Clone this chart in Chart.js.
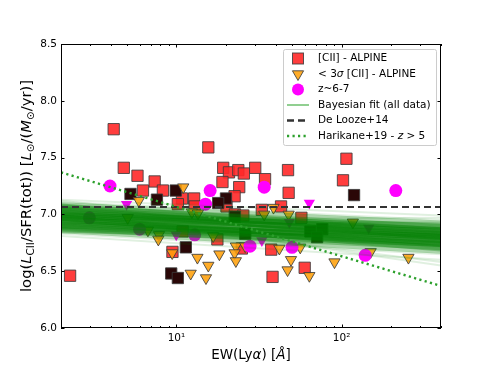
<!DOCTYPE html>
<html><head><meta charset="utf-8">
<script src="https://cdn.jsdelivr.net/npm/chart.js@4.4.1/dist/chart.umd.min.js"></script>
<style>html,body{margin:0;padding:0;background:#fff}#wrap{width:490px;height:368px}</style>
</head><body><div id="wrap"><canvas id="c" width="490" height="368"></canvas></div>
<script>
// ---- data ----
const redEW = [2.27,4.17,4.80,5.81,7.38,6.27,8.28,10.8,10.2,15.6,19.2,20.8,23.7,25.6,30.0,47.4,19.0,34.4,24.0,47.8,12.8,22.5,43.0,12.9,20.1,22.6,25.4,32.9,57.1,17.7,10.9,9.46,24.9,37.5,59.8,38.2,107,102];
const redY  = [6.46,7.75,7.41,7.34,7.29,7.21,7.21,7.14,7.09,7.59,7.41,7.37,7.39,7.36,7.41,7.39,7.285,7.31,7.24,7.19,7.14,7.16,7.07,7.07,7.07,7.00,6.99,7.04,6.97,6.78,6.85,6.67,6.70,6.69,6.53,6.45,7.49,7.30];
const darkEW = [5.27,7.62,9.9,19.95,17.9,22.6,11.4,9.3,10.2,119,64.7,76.4,71.1,26.1];
const darkY  = [7.18,7.13,7.21,7.14,7.10,6.98,6.71,6.48,6.44,7.17,6.85,6.87,6.80,6.83];
const limEW = [11.0,5.92,12.4,13.5,34.0,38.7,47.8,7.84,7.77,6.72,9.43,13.4,15.6,18.2,22.9,22.5,22.9,12.2,15.1,26.1,42.0,56.2,49.4,47.1,63.8,117,90.6,254,150,5.07,16.7];
const limY  = [7.24,7.12,7.02,7.01,7.00,7.06,7.00,6.82,6.78,6.86,6.66,6.62,6.55,6.65,6.72,6.66,6.59,6.48,6.44,6.72,6.70,6.71,6.60,6.51,6.46,6.93,6.58,6.62,6.67,6.97,6.81];
const z67EW = [3.96,16.0,34.0,15.0,213,12.9,5.98,27.9,50.1,139,2.97];
const z67Y  = [7.25,7.21,7.24,7.09,7.21,6.82,6.87,6.72,6.71,6.64,6.97];
const z67LimEW = [4.99,9.97,63.8,48.3,146,32.9];
const z67LimY  = [7.09,6.82,7.10,6.93,6.88,6.77];
// Bayesian fit posterior lines: value at EW=2 and at EW=400
const fitEnds = [2, 400];
const fitCoreLeft  = [6.97,7.00,6.94,7.03,6.91,7.06,6.88,7.08,6.86,6.99,6.95,7.02,6.92,7.05,6.89,6.98,6.96,7.01,6.93,7.04,6.90,7.07,6.87,6.97,6.99];
const fitCoreRight = [6.80,6.83,6.77,6.86,6.74,6.89,6.71,6.92,6.68,6.78,6.82,6.81,6.79,6.84,6.76,6.85,6.75,6.87,6.73,6.80,6.81,6.86,6.74,6.70,6.90];
const fitOuterLeft  = [7.11,6.83,7.13,6.81,7.09,6.85,7.12,6.84,7.00,6.95,7.03,6.92];
const fitOuterRight = [6.95,6.65,6.99,6.60,6.72,6.88,6.78,6.82,6.58,6.97,6.55,6.93];
// reference relations
const deLoozeY = [7.065, 7.065];
const harikaneY = [7.37, 6.37];
// axes
const xRange = [2, 400];
const yRange = [6.0, 8.5];
const yTicks = [6.0, 6.5, 7.0, 7.5, 8.0, 8.5];
const xMajor = [10, 100];
const xMajorLabels = ['10¹', '10²'];
const xMinor = [2,3,4,5,6,7,8,9,20,30,40,50,60,70,80,90,200,300,400];
const legendLabels = ['[CII] - ALPINE', '< 3σ [CII] - ALPINE', 'z~6-7', 'Bayesian fit (all data)', 'De Looze+14', 'Harikane+19 - z > 5'];

const FONT = '"DejaVu Sans", sans-serif';
const pts = (xs, ys) => xs.map((x, i) => ({x, y: ys[i]}));
const EDGE = 'rgba(60,60,60,0.85)';

const datasets = [];
datasets.push({label:'harikane', type:'line', data: pts(fitEnds, harikaneY), borderColor:'#2ca02c', borderWidth:2.4, borderDash:[2.2,3.3], pointRadius:0, order:0});
datasets.push({label:'delooze', type:'line', data: pts(fitEnds, deLoozeY), borderColor:'#333333', borderWidth:2, borderDash:[7,4], pointRadius:0, order:1});
fitCoreLeft.forEach((l, i) => datasets.push({type:'line', data: pts(fitEnds, [l, fitCoreRight[i]]), borderColor:'rgba(0,128,0,0.33)', borderWidth:6, pointRadius:0, order:2}));
fitOuterLeft.forEach((l, i) => datasets.push({type:'line', data: pts(fitEnds, [l, fitOuterRight[i]]), borderColor:'rgba(0,128,0,0.12)', borderWidth:2, pointRadius:0, order:2}));
datasets.push({label:'z67lim', data: pts(z67LimEW, z67LimY), pointStyle:'triangle', rotation:180, pointRadius:6.5, backgroundColor:'#ff00ff', borderColor:'#ff00ff', borderWidth:0, order:3});
datasets.push({label:'z67', data: pts(z67EW, z67Y), pointStyle:'circle', pointRadius:6.5, backgroundColor:'#ff00ff', borderColor:'#ff00ff', borderWidth:0, order:4});
datasets.push({label:'lim', data: pts(limEW, limY), pointStyle:'triangle', rotation:180, pointRadius:6.5, backgroundColor:'rgba(255,160,10,0.88)', borderColor:EDGE, borderWidth:1, order:5});
datasets.push({label:'dark', data: pts(darkEW, darkY), pointStyle:'rect', pointRadius:8, backgroundColor:'#2a0707', borderColor:EDGE, borderWidth:1, order:6});
datasets.push({label:'red', data: pts(redEW, redY), pointStyle:'rect', pointRadius:8, backgroundColor:'rgba(255,40,40,0.9)', borderColor:EDGE, borderWidth:1, order:7});

function fontOf(style, size){
  if (style === 'i') return 'italic ' + size + 'px ' + FONT;
  if (style === 'sub') return (size*0.7).toFixed(2) + 'px ' + FONT;
  return size + 'px ' + FONT;
}
function richWidth(ctx, parts, size){
  let w = 0;
  parts.forEach(p => { ctx.font = fontOf(p[1], size); w += ctx.measureText(p[0]).width; });
  return w;
}
function drawRich(ctx, parts, x, y, size){
  let cx = x;
  ctx.textAlign = 'left';
  ctx.textBaseline = 'middle';
  parts.forEach(p => {
    ctx.font = fontOf(p[1], size);
    const dy = p[1] === 'sub' ? size*0.28 : 0;
    ctx.fillText(p[0], cx, y + dy);
    cx += ctx.measureText(p[0]).width;
  });
}

const framePlugin = {
  id:'frame',
  afterDraw(chart){
    const ctx = chart.ctx, a = chart.chartArea;
    const xs = chart.scales.x, ys = chart.scales.y;
    ctx.save();
    // spines
    ctx.strokeStyle = '#000'; ctx.lineWidth = 1;
    ctx.strokeRect(a.left + 0.5, a.top + 0.5, a.right - a.left - 1, a.bottom - a.top - 1);
    // ticks (inward)
    ctx.beginPath();
    const tickX = (v, len) => { const px = Math.round(xs.getPixelForValue(v)) + 0.5; ctx.moveTo(px, a.bottom); ctx.lineTo(px, a.bottom - len); ctx.moveTo(px, a.top); ctx.lineTo(px, a.top + len); };
    xMajor.forEach(v => tickX(v, 3.5));
    xMinor.forEach(v => tickX(v, 2));
    yTicks.forEach(v => { const py = Math.round(ys.getPixelForValue(v)) + 0.5; ctx.moveTo(a.left, py); ctx.lineTo(a.left + 3.5, py); ctx.moveTo(a.right, py); ctx.lineTo(a.right - 3.5, py); });
    ctx.stroke();
    ctx.fillStyle = '#000';
    // x title
    const xt = [['EW(Ly','n'],['α','i'],[') [','n'],['Å','i'],[']','n']];
    const xw = richWidth(ctx, xt, 13.5);
    drawRich(ctx, xt, (a.left + a.right)/2 - xw/2, 355, 13.5);
    // y title
    const ys_ = 14.8;
    const yt = [['log(','n'],['L','i'],['CII','sub'],['/SFR(tot)) [','n'],['L','i'],['⊙','sub'],['/(','n'],['M','i'],['⊙','sub'],['/yr)]','n']];
    const yw = richWidth(ctx, yt, ys_);
    ctx.save();
    ctx.translate(27, (a.top + a.bottom)/2);
    ctx.rotate(-Math.PI/2);
    drawRich(ctx, yt, -yw/2, 0, ys_);
    ctx.restore();
    // legend
    const bx = 283, by = 49, bw = 153, bh = 96;
    ctx.fillStyle = 'rgba(255,255,255,0.85)';
    ctx.strokeStyle = '#cccccc'; ctx.lineWidth = 1;
    ctx.beginPath();
    if (ctx.roundRect) ctx.roundRect(bx + 0.5, by + 0.5, bw, bh, 2); else ctx.rect(bx + 0.5, by + 0.5, bw, bh);
    ctx.fill(); ctx.stroke();
    const mx = 298, tx = 318, rows = [58.5, 74, 89.5, 105, 120.5, 136];
    // square
    ctx.fillStyle = 'rgba(255,40,40,0.9)'; ctx.strokeStyle = EDGE;
    ctx.fillRect(mx - 5.5, rows[0] - 5.5, 11, 11); ctx.strokeRect(mx - 5.5, rows[0] - 5.5, 11, 11);
    // down triangle
    ctx.beginPath(); ctx.moveTo(mx - 5.6, rows[1] - 3.2); ctx.lineTo(mx + 5.6, rows[1] - 3.2); ctx.lineTo(mx, rows[1] + 6.5); ctx.closePath();
    ctx.fillStyle = 'rgba(255,160,10,0.88)'; ctx.fill(); ctx.stroke();
    // circle
    ctx.beginPath(); ctx.arc(mx, rows[2], 6, 0, Math.PI*2); ctx.fillStyle = '#ff00ff'; ctx.fill();
    // solid green
    ctx.beginPath(); ctx.moveTo(287, rows[3]); ctx.lineTo(309, rows[3]); ctx.strokeStyle = '#6cbf6c'; ctx.lineWidth = 1.5; ctx.stroke();
    // dashed
    ctx.beginPath(); ctx.setLineDash([7,4]); ctx.moveTo(287, rows[4]); ctx.lineTo(309, rows[4]); ctx.strokeStyle = '#333333'; ctx.lineWidth = 2.4; ctx.stroke();
    // dotted
    ctx.beginPath(); ctx.setLineDash([2.2,3.3]); ctx.moveTo(287, rows[5]); ctx.lineTo(309, rows[5]); ctx.strokeStyle = '#2ca02c'; ctx.lineWidth = 2.4; ctx.stroke();
    ctx.setLineDash([]);
    ctx.fillStyle = '#000';
    const lf = 10.5;
    drawRich(ctx, [[legendLabels[0],'n']], tx, rows[0], lf);
    drawRich(ctx, [['< 3','n'],['σ','i'],[' [CII] - ALPINE','n']], tx, rows[1], lf);
    drawRich(ctx, [[legendLabels[2],'n']], tx, rows[2], lf);
    drawRich(ctx, [[legendLabels[3],'n']], tx, rows[3], lf);
    drawRich(ctx, [[legendLabels[4],'n']], tx, rows[4], lf);
    drawRich(ctx, [['Harikane+19 - ','n'],['z','i'],[' > 5','n']], tx, rows[5], lf);
    ctx.restore();
  }
};

new Chart(document.getElementById('c'), {
  type:'scatter',
  data:{datasets},
  options:{
    responsive:false, animation:false, devicePixelRatio:1,
    layout:{padding:{left:0, right:49, top:44, bottom:0}, autoPadding:false},
    plugins:{legend:{display:false}, tooltip:{enabled:false}},
    elements:{line:{tension:0}},
    scales:{
      x:{type:'logarithmic', min:xRange[0], max:xRange[1],
         grid:{display:false, drawTicks:false}, border:{display:false},
         ticks:{autoSkip:false, maxRotation:0, minRotation:0, padding:4, color:'#000', font:{family:'DejaVu Sans', size:10.5},
                callback:(v) => { const i = xMajor.findIndex(m => Math.abs(m - v) < 1e-6); return i >= 0 ? xMajorLabels[i] : ''; }},
         afterFit(s){ s.height = 40; }},
      y:{min:yRange[0], max:yRange[1],
         grid:{display:false, drawTicks:false}, border:{display:false},
         ticks:{stepSize:0.5, padding:4, color:'#000', font:{family:'DejaVu Sans', size:10.5}, callback:(v) => Number(v).toFixed(1)},
         afterFit(s){ s.width = 61; }}
    }
  },
  plugins:[framePlugin]
});
</script>
</body></html>
